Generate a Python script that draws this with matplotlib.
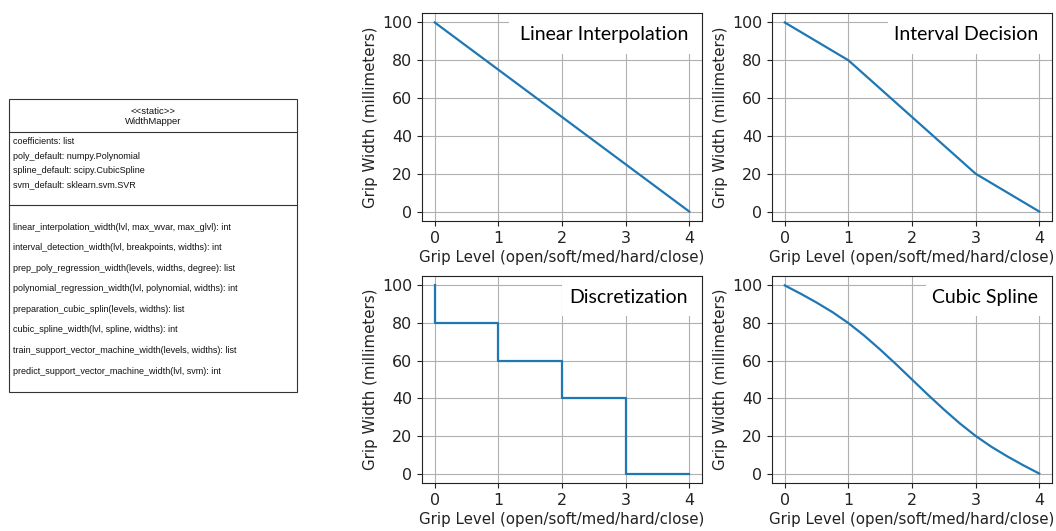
import numpy as np
import matplotlib
matplotlib.use("Agg")
import matplotlib.pyplot as plt
from matplotlib.patches import Rectangle

plt.rcParams["font.family"] = ["DejaVu Sans"]

# ---------------- data ----------------
levels = [0, 1, 2, 3, 4]
linear_widths = [100, 75, 50, 25, 0]
interval_widths = [100, 80, 50, 20, 0]
disc_x = [0, 0, 1, 2, 3, 4]
disc_widths = [100, 80, 60, 40, 0, 0]
spline_x = [0, 0.25, 0.5, 0.75, 1, 1.25, 1.5, 1.75, 2, 2.25, 2.5, 2.75, 3,
            3.25, 3.5, 3.75, 4]
spline_widths = [100, 95.6, 90.9, 85.8, 80, 73.3, 65.9, 58.1, 50, 41.9, 34.1,
                 26.7, 20, 14.2, 9.1, 4.4, 0]
titles = ["Linear Interpolation", "Interval Decision", "Discretization",
          "Cubic Spline"]
xlabel = "Grip Level (open/soft/med/hard/close)"
ylabel = "Grip Width (millimeters)"
xticks = [0, 1, 2, 3, 4]
yticks = [0, 20, 40, 60, 80, 100]

uml_stereotype = "<<static>>"
uml_class = "WidthMapper"
uml_attributes = [
    "coefficients: list",
    "poly_default: numpy.Polynomial",
    "spline_default: scipy.CubicSpline",
    "svm_default: sklearn.svm.SVR",
]
uml_methods = [
    "linear_interpolation_width(lvl, max_wvar, max_glvl): int",
    "interval_detection_width(lvl, breakpoints, widths): int",
    "prep_poly_regression_width(levels, widths, degree): list",
    "polynomial_regression_width(lvl, polynomial, widths): int",
    "preparation_cubic_splin(levels, widths): list",
    "cubic_spline_width(lvl, spline, widths): int",
    "train_support_vector_machine_width(levels, widths): list",
    "predict_support_vector_machine_width(lvl, svm): int",
]

# ---------------- figure ----------------
W, H = 1056, 531
fig = plt.figure(figsize=(W / 100, H / 100), dpi=100)
fig.patch.set_facecolor("white")

# overlay axes in pixel coordinates for the UML box
ov = fig.add_axes([0, 0, 1, 1])
ov.set_xlim(0, W)
ov.set_ylim(H, 0)
ov.axis("off")

bx0, bx1, by0, by1 = 9, 297, 99, 392
ov.add_patch(Rectangle((bx0, by0), bx1 - bx0, by1 - by0, fill=False,
                       edgecolor="#333333", linewidth=0.8))
ov.plot([bx0, bx1], [132, 132], color="#333333", linewidth=0.8)
ov.plot([bx0, bx1], [205, 205], color="#333333", linewidth=0.8)
umlfont = dict(family="Liberation Sans", fontsize=6.45, color="#111111")
cx = (bx0 + bx1) / 2
ov.text(cx, 111, uml_stereotype, ha="center", va="center", family="Liberation Sans",
        fontsize=6.8, color="#111111")
ov.text(cx, 122, uml_class, ha="center", va="center", family="Liberation Sans",
        fontsize=6.8, color="#111111")
for i, s in enumerate(uml_attributes):
    ov.text(bx0 + 4, 142 + i * 14.2, s, ha="left", va="center", **umlfont)
for i, s in enumerate(uml_methods):
    ov.text(bx0 + 4, 227 + i * 20.6, s, ha="left", va="center", **umlfont)

# plots
positions = [
    (422, 13, 702, 221),
    (772, 13, 1052, 221),
    (422, 276, 702, 483),
    (772, 276, 1052, 483),
]
series = [
    (levels, linear_widths, "line"),
    (levels, interval_widths, "line"),
    (disc_x, disc_widths, "step"),
    (spline_x, spline_widths, "line"),
]
box_left = [0.31, 0.414, 0.50, 0.55]

for (l, t, r, b), (xs, ys, kind), title, bl in zip(positions, series, titles, box_left):
    ax = fig.add_axes([l / W, 1 - b / H, (r - l) / W, (b - t) / H])
    if kind == "step":
        ax.step(xs, ys, where="post", color="#1f77b4", linewidth=1.6)
    else:
        ax.plot(xs, ys, color="#1f77b4", linewidth=1.6)
    ax.set_xticks(xticks)
    ax.set_yticks(yticks)
    ax.grid(True, color="#b0b0b0", linewidth=0.8)
    ax.tick_params(labelsize=11.4, colors="#222222")
    ax.set_xlabel(xlabel, fontsize=10.8, color="#222222", labelpad=3)
    ax.set_ylabel(ylabel, fontsize=10.8, color="#222222", labelpad=3)
    for sp in ax.spines.values():
        sp.set_color("#222222")
    ax.add_patch(Rectangle((bl, 0.805), 1 - bl, 0.195, transform=ax.transAxes,
                           facecolor="white", edgecolor="none", zorder=1.8))
    ax.text(0.95, 0.895, title, transform=ax.transAxes, ha="right",
            va="center", family="Lato", fontsize=14, color="black", zorder=3)

fig.savefig("out.png", dpi=100)
